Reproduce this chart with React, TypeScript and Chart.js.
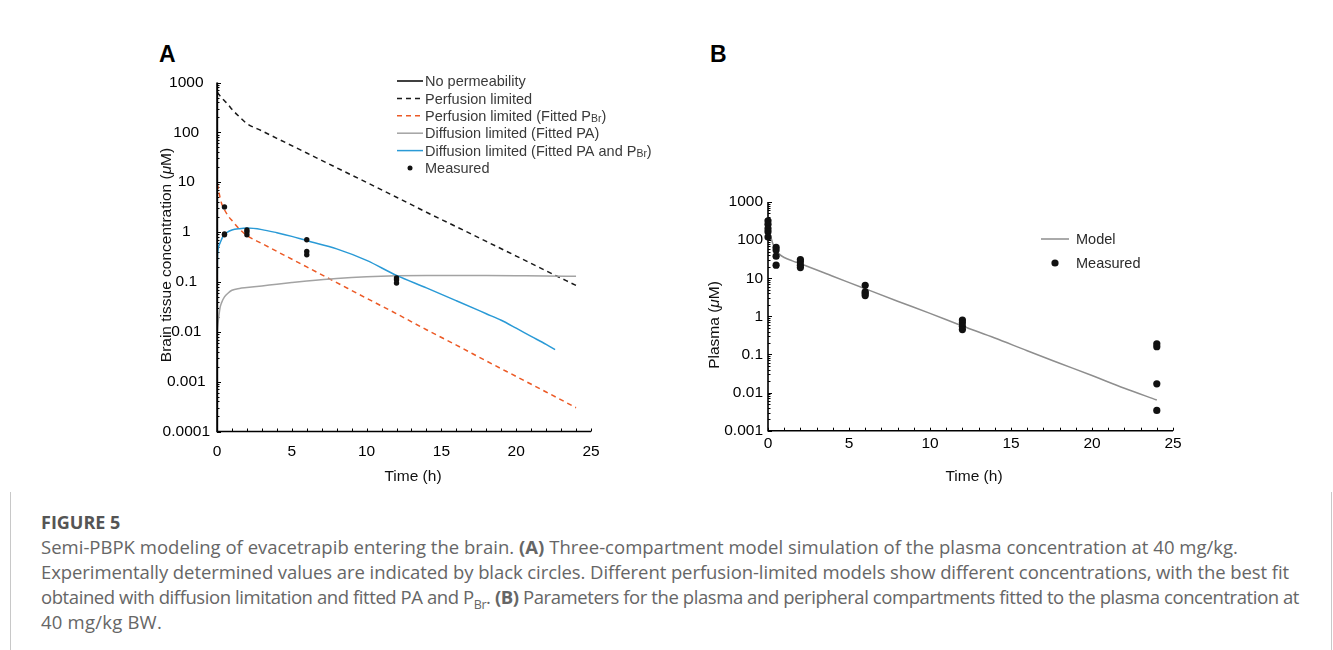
import React, { useEffect, useRef } from "react";
import { Chart, registerables } from "chart.js";
Chart.register(...registerables);

const FONT = "'Liberation Sans', Arial, Helvetica, sans-serif";

// ---------------- Panel A data ----------------
const xTickValuesA = [0, 5, 10, 15, 20, 25];
const yTickValuesA = [0.0001, 0.001, 0.01, 0.1, 1, 10, 100, 1000];
const yTickLabelsA = ["0.0001", "0.001", "0.01", "0.1", "1", "10", "100", "1000"];
const seriesLabelsA = [
  "No permeability",
  "Perfusion limited",
  "Perfusion limited (Fitted P_{Br})",
  "Diffusion limited (Fitted PA)",
  "Diffusion limited (Fitted PA and P_{Br})",
  "Measured",
];

const noPermT = [0, 0.02, 0.04];
const noPermV = [0.0001, 1000, 0.0001];

const perfT = [0.02, 0.1, 0.25, 0.5, 0.75, 1, 1.5, 2, 3, 4, 6, 8, 10, 12, 14, 16, 18, 20, 22, 24];
const perfV = [640, 590, 520, 430, 360, 290, 205, 150, 107, 76, 38.5, 19.5, 9.9, 5.0, 2.5, 1.28, 0.65, 0.33, 0.167, 0.085];

const perfFitT = [0, 0.03, 0.1, 0.2, 0.3, 0.5, 0.75, 1, 1.5, 2, 3, 4, 6, 8, 10, 12, 14, 16, 18, 20, 22, 24];
const perfFitV = [2.5, 9, 7, 5, 3.8, 2.8, 2.1, 1.7, 1.15, 0.85, 0.59, 0.41, 0.2, 0.097, 0.047, 0.023, 0.011, 0.0054, 0.0026, 0.00127, 0.00062, 0.0003];

const diffPAT = [0, 0.05, 0.1, 0.2, 0.3, 0.5, 0.75, 1, 1.5, 2, 3, 4, 5, 6, 8, 10, 12, 14, 16, 18, 20, 22, 24];
const diffPAV = [0.008, 0.013, 0.018, 0.03, 0.038, 0.05, 0.06, 0.068, 0.074, 0.077, 0.083, 0.09, 0.097, 0.104, 0.117, 0.127, 0.133, 0.135, 0.135, 0.134, 0.133, 0.132, 0.13];

const diffBothT = [0, 0.02, 0.05, 0.1, 0.2, 0.4, 0.7, 1, 1.5, 2, 3, 4, 5, 6, 8, 10, 12, 14, 16, 18, 19, 20, 21, 22, 22.6];
const diffBothV = [0.0001, 0.2, 0.4, 0.5, 0.6, 0.82, 1.0, 1.1, 1.17, 1.2, 1.12, 0.97, 0.82, 0.67, 0.46, 0.27, 0.135, 0.076, 0.042, 0.023, 0.017, 0.0118, 0.0081, 0.0056, 0.0044];

const measAT = [0.5, 0.5, 0.5, 2, 2, 2, 6, 6, 6, 12, 12, 12];
const measAV = [3.2, 0.92, 0.88, 1.1, 1.0, 0.88, 0.7, 0.41, 0.35, 0.12, 0.11, 0.095];

// ---------------- Panel B data ----------------
const xTickValuesB = [0, 5, 10, 15, 20, 25];
const yTickValuesB = [0.001, 0.01, 0.1, 1, 10, 100, 1000];
const yTickLabelsB = ["0.001", "0.01", "0.1", "1", "10", "100", "1000"];
const seriesLabelsB = ["Model", "Measured"];

const modelT = [0, 0.1, 0.2, 0.3, 0.5, 0.75, 1, 1.5, 2, 4, 6, 8, 10, 12, 14, 16, 18, 20, 22, 24];
const modelV = [350, 170, 110, 80, 55, 41, 35, 28.5, 24, 11.3, 5.3, 2.5, 1.2, 0.56, 0.27, 0.125, 0.059, 0.028, 0.013, 0.0064];

const measBT = [0, 0, 0, 0, 0, 0.5, 0.5, 0.5, 0.5, 2, 2, 2, 2, 6, 6, 6, 6, 12, 12, 12, 12, 24, 24, 24, 24];
const measBV = [320, 260, 200, 165, 120, 65, 55, 38, 22, 31, 27, 22, 19, 6.5, 4.4, 4.0, 3.5, 0.8, 0.68, 0.55, 0.45, 0.19, 0.16, 0.017, 0.0034];

// caption line widths (px) in the reference
const captionWidths = [1197, 1248, 1258, 121];

const pts = (t: number[], v: number[]) => t.map((x, i) => ({ x, y: v[i] }));

// ---------------- rich text helpers ----------------
type Seg = { text: string; italic?: boolean; sub?: boolean };
function parseRich(s: string): Seg[] {
  const out: Seg[] = [];
  const re = /_\{([^}]*)\}|\*([^*]*)\*/g;
  let last = 0;
  let m: RegExpExecArray | null;
  while ((m = re.exec(s))) {
    if (m.index > last) out.push({ text: s.slice(last, m.index) });
    if (m[1] !== undefined) out.push({ text: m[1], sub: true });
    else out.push({ text: m[2], italic: true });
    last = re.lastIndex;
  }
  if (last < s.length) out.push({ text: s.slice(last) });
  return out;
}
function fontFor(seg: Seg, size: number) {
  const sz = seg.sub ? size * 0.72 : size;
  return `${seg.italic ? "italic " : ""}${sz}px ${FONT}`;
}
function richWidth(ctx: CanvasRenderingContext2D, segs: Seg[], size: number) {
  let w = 0;
  for (const s of segs) {
    ctx.font = fontFor(s, size);
    w += ctx.measureText(s.text).width;
  }
  return w;
}
function drawRich(ctx: CanvasRenderingContext2D, segs: Seg[], x: number, y: number, size: number) {
  let cx = x;
  ctx.textBaseline = "alphabetic";
  ctx.textAlign = "left";
  for (const s of segs) {
    ctx.font = fontFor(s, size);
    const base = y + size * 0.36 + (s.sub ? size * 0.08 : 0);
    ctx.fillText(s.text, cx, base);
    cx += ctx.measureText(s.text).width;
  }
}

// ---------------- plugins ----------------
const axesPlugin = {
  id: "customAxes",
  beforeDatasetsDraw(chart: any, _a: any, opts: any) {
    const { ctx, chartArea: a } = chart;
    const x = chart.scales.x;
    const y = chart.scales.y;
    ctx.save();
    ctx.strokeStyle = "#000";
    ctx.lineWidth = opts.axisWidth;
    ctx.beginPath();
    ctx.moveTo(a.left, a.top);
    ctx.lineTo(a.left, a.bottom);
    ctx.lineTo(a.right, a.bottom);
    ctx.stroke();
    ctx.lineWidth = 1;
    ctx.beginPath();
    for (let v = x.min; v <= x.max + 1e-9; v += opts.xStep) {
      const px = Math.round(x.getPixelForValue(v)) + 0.5;
      ctx.moveTo(px, a.bottom);
      ctx.lineTo(px, a.bottom - opts.xTickLen);
    }
    const e0 = Math.floor(Math.log10(y.min));
    const e1 = Math.ceil(Math.log10(y.max));
    for (let e = e0; e <= e1; e++) {
      for (let k = 1; k <= 9; k++) {
        const v = k * Math.pow(10, e);
        if (v < y.min * 0.999 || v > y.max * 1.001) continue;
        const py = Math.round(y.getPixelForValue(v)) + 0.5;
        const len = k === 1 ? opts.yMajorLen : opts.yMinorLen;
        ctx.moveTo(a.left, py);
        ctx.lineTo(a.left + len, py);
      }
    }
    ctx.stroke();
    ctx.restore();
  },
};

const titlesPlugin = {
  id: "axisTitles",
  afterDraw(chart: any, _a: any, opts: any) {
    const ctx = chart.ctx as CanvasRenderingContext2D;
    ctx.save();
    ctx.fillStyle = "#111";
    const xs = parseRich(opts.xText);
    const xw = richWidth(ctx, xs, opts.size);
    drawRich(ctx, xs, opts.xCx - xw / 2, opts.xCy, opts.size);
    const ys = parseRich(opts.yText);
    const yw = richWidth(ctx, ys, opts.size);
    ctx.translate(opts.yCx, opts.yCy);
    ctx.rotate(-Math.PI / 2);
    drawRich(ctx, ys, -yw / 2, 0, opts.size);
    ctx.restore();
  },
};

const legendPlugin = {
  id: "customLegend",
  afterDraw(chart: any, _a: any, opts: any) {
    const ctx = chart.ctx as CanvasRenderingContext2D;
    ctx.save();
    chart.data.datasets.forEach((ds: any, i: number) => {
      const y = opts.y0 + i * opts.dy;
      if (ds.showLine) {
        ctx.strokeStyle = ds.borderColor;
        ctx.lineWidth = ds.borderWidth;
        ctx.setLineDash(ds.borderDash || []);
        ctx.beginPath();
        ctx.moveTo(opts.x0, y);
        ctx.lineTo(opts.x1, y);
        ctx.stroke();
        ctx.setLineDash([]);
      } else {
        ctx.fillStyle = ds.backgroundColor;
        ctx.beginPath();
        ctx.arc((opts.x0 + opts.x1) / 2, y, opts.dotR, 0, Math.PI * 2);
        ctx.fill();
      }
      ctx.fillStyle = opts.color;
      drawRich(ctx, parseRich(ds.label), opts.textX, y, opts.size);
    });
    ctx.restore();
  },
};

function baseScales(xTicks: number[], yTicks: number[], yLabels: string[], yMin: number, yMax: number, xPad: number, yPad: number, crossAlign: string, xH: number, yW: number) {
  return {
    x: {
      type: "linear",
      min: 0,
      max: 25,
      afterBuildTicks: (s: any) => {
        s.ticks = xTicks.map((v) => ({ value: v }));
      },
      ticks: { color: "#000", font: { family: FONT, size: 15.5 }, padding: xPad, maxRotation: 0, autoSkip: false },
      grid: { display: false, drawTicks: false },
      border: { display: false },
      afterFit: (s: any) => {
        s.height = xH;
      },
    },
    y: {
      type: "logarithmic",
      min: yMin,
      max: yMax,
      afterBuildTicks: (s: any) => {
        s.ticks = yTicks.map((v) => ({ value: v }));
      },
      ticks: {
        color: "#000",
        font: { family: FONT, size: 15.5 },
        padding: yPad,
        crossAlign,
        autoSkip: false,
        callback: (_v: any, i: number) => yLabels[i],
      },
      grid: { display: false, drawTicks: false },
      border: { display: false },
      afterFit: (s: any) => {
        s.width = yW;
      },
    },
  };
}

export default function App() {
  const refA = useRef<HTMLCanvasElement>(null);
  const refB = useRef<HTMLCanvasElement>(null);
  const capRefs = useRef<(HTMLSpanElement | null)[]>([]);

  useEffect(() => {
    document.body.style.margin = "0";
    const lineCommon = { showLine: true, pointRadius: 0, borderWidth: 1.5, cubicInterpolationMode: "monotone" };
    const chartA = new Chart(refA.current as HTMLCanvasElement, {
      type: "scatter",
      data: {
        datasets: [
          { label: seriesLabelsA[0], data: pts(noPermT, noPermV), ...lineCommon, cubicInterpolationMode: "default", tension: 0, borderColor: "#000", order: 1 },
          { label: seriesLabelsA[1], data: pts(perfT, perfV), ...lineCommon, borderColor: "#1a1a1a", borderDash: [5, 4], order: 5 },
          { label: seriesLabelsA[2], data: pts(perfFitT, perfFitV), ...lineCommon, borderColor: "#ec5a26", borderDash: [5, 4], order: 4 },
          { label: seriesLabelsA[3], data: pts(diffPAT, diffPAV), ...lineCommon, borderColor: "#a3a3a3", order: 3 },
          { label: seriesLabelsA[4], data: pts(diffBothT, diffBothV), ...lineCommon, borderColor: "#2a9ad6", order: 2 },
          { label: seriesLabelsA[5], data: pts(measAT, measAV), showLine: false, pointRadius: 2.7, pointBorderWidth: 0, backgroundColor: "#111", borderColor: "#111", order: 0, clip: 8 },
        ],
      } as any,
      options: {
        responsive: false,
        animation: false,
        events: [],
        layout: { padding: { top: 22.5, right: 69, left: 0, bottom: 0 } },
        plugins: {
          legend: { display: false },
          tooltip: { enabled: false },
          customAxes: { axisWidth: 1.6, xStep: 1, xTickLen: 3, yMajorLen: 4, yMinorLen: 2.5 },
          axisTitles: { size: 15.5, xText: "Time (h)", xCx: 273, xCy: 415.7, yText: "Brain tissue concentration (*μ*M)", yCx: 25, yCy: 195 },
          customLegend: { x0: 257, x1: 283, textX: 285, y0: 21, dy: 17.4, size: 14.5, color: "#3a3a3a", dotR: 2.5 },
        },
        scales: baseScales(xTickValuesA, yTickValuesA, yTickLabelsA, 0.0001, 1000, 10.5, 7, "center", 58.5, 77),
      } as any,
      plugins: [axesPlugin, titlesPlugin, legendPlugin] as any,
    });

    const chartB = new Chart(refB.current as HTMLCanvasElement, {
      type: "scatter",
      data: {
        datasets: [
          { label: seriesLabelsB[0], data: pts(modelT, modelV), ...lineCommon, borderColor: "#8e8e8e", order: 1 },
          { label: seriesLabelsB[1], data: pts(measBT, measBV), showLine: false, pointRadius: 3.6, pointBorderWidth: 0, backgroundColor: "#111", borderColor: "#111", order: 0, clip: 8 },
        ],
      } as any,
      options: {
        responsive: false,
        animation: false,
        events: [],
        layout: { padding: { top: 32, right: 37, left: 0, bottom: 0 } },
        plugins: {
          legend: { display: false },
          tooltip: { enabled: false },
          customAxes: { axisWidth: 1.6, xStep: 1, xTickLen: 3, yMajorLen: 4, yMinorLen: 2.5 },
          axisTitles: { size: 15.5, xText: "Time (h)", xCx: 284, xCy: 305, yText: "Plasma (*μ*M)", yCx: 23, yCy: 155 },
          customLegend: { x0: 351, x1: 379, textX: 386, y0: 69, dy: 24, size: 14.5, color: "#2a2a2a", dotR: 3.6 },
        },
        scales: baseScales(xTickValuesB, yTickValuesB, yTickLabelsB, 0.001, 1000, 3.5, 5, "near", 59.3, 78),
      } as any,
      plugins: [axesPlugin, titlesPlugin, legendPlugin] as any,
    });

    const fit = () => {
      capRefs.current.forEach((el, i) => {
        if (!el) return;
        el.style.letterSpacing = "0px";
        const w = el.getBoundingClientRect().width;
        const n = (el.textContent || "").length || 1;
        el.style.letterSpacing = `${(captionWidths[i] - w) / n}px`;
      });
    };
    fit();
    const fonts = (document as any).fonts;
    if (fonts && fonts.ready) fonts.ready.then(fit);

    return () => {
      chartA.destroy();
      chartB.destroy();
    };
  }, []);

  const panelLabel: React.CSSProperties = {
    position: "absolute",
    top: 43,
    font: `700 23px ${FONT}`,
    lineHeight: "23px",
    color: "#000",
  };
  const capLine: React.CSSProperties = { whiteSpace: "nowrap", height: 25 };
  const capSpan = (i: number) => (el: HTMLSpanElement | null) => {
    capRefs.current[i] = el;
  };

  return (
    <div style={{ position: "fixed", left: 0, top: 0, width: 1333, height: 650, background: "#fff", overflow: "hidden" }}>
      <div style={{ ...panelLabel, left: 159 }}>A</div>
      <div style={{ ...panelLabel, left: 710 }}>B</div>
      <canvas ref={refA} width={520} height={430} style={{ position: "absolute", left: 140, top: 60, width: 520, height: 430 }} />
      <canvas ref={refB} width={520} height={320} style={{ position: "absolute", left: 690, top: 170, width: 520, height: 320 }} />
      <div style={{ position: "absolute", left: 10, top: 492, width: 1320, height: 200, borderLeft: "1px solid #c8c8c8", borderRight: "1px solid #c8c8c8" }} />
      <div style={{ position: "absolute", left: 41, top: 510, font: "700 18px 'Open Sans', sans-serif", color: "#555", lineHeight: "25px", whiteSpace: "nowrap" }}>
        FIGURE 5
      </div>
      <div style={{ position: "absolute", left: 41, top: 534, font: "400 18.5px 'Open Sans', sans-serif", color: "#666", lineHeight: "25px" }}>
        <div style={capLine}>
          <span ref={capSpan(0)}>
            Semi-PBPK modeling of evacetrapib entering the brain. <b>(A)</b> Three-compartment model simulation of the plasma concentration at 40 mg/kg.
          </span>
        </div>
        <div style={capLine}>
          <span ref={capSpan(1)}>
            Experimentally determined values are indicated by black circles. Different perfusion-limited models show different concentrations, with the best fit
          </span>
        </div>
        <div style={capLine}>
          <span ref={capSpan(2)}>
            obtained with diffusion limitation and fitted PA and P<sub style={{ fontSize: 12.5, lineHeight: 0 }}>Br</sub>. <b>(B)</b> Parameters for the plasma and peripheral compartments fitted to the plasma concentration at
          </span>
        </div>
        <div style={capLine}>
          <span ref={capSpan(3)}>40 mg/kg BW.</span>
        </div>
      </div>
    </div>
  );
}
